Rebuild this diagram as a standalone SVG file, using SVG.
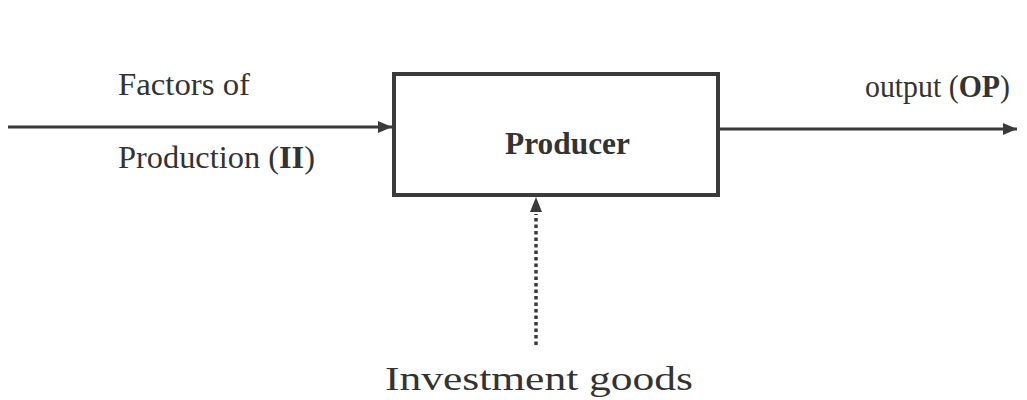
<svg xmlns="http://www.w3.org/2000/svg" width="1027" height="400" viewBox="0 0 1027 400">
<defs>
<style>
.t{font-family:"Liberation Serif","Times New Roman",serif;font-size:31px;fill:#333}
.b{font-weight:bold}
.ln{stroke:#3a3a3a;stroke-width:3;fill:none}
</style>
<marker id="ah" viewBox="0 0 14 12" refX="14" refY="6" markerWidth="14" markerHeight="12" markerUnits="userSpaceOnUse" orient="auto">
<path d="M0,0 L14,6 L0,12 Z" fill="#3a3a3a"/>
</marker>
</defs>
<rect width="1027" height="400" fill="#fff"/>
<g id="connectors">
<line class="ln" x1="8" y1="127" x2="392" y2="127" marker-end="url(#ah)"/>
<line class="ln" x1="718" y1="129" x2="1017" y2="129" marker-end="url(#ah)"/>
<line x1="536" y1="345" x2="536" y2="214" stroke="#3a3a3a" stroke-width="3.5" stroke-dasharray="3.5 3" fill="none"/>
<path d="M530,212 L536,197 L542,212 Z" fill="#3a3a3a"/>
</g>
<g id="producer">
<rect x="394" y="74" width="324" height="121" fill="#fff" stroke="#3a3a3a" stroke-width="4"/>
<text class="t b" x="505" y="154" textLength="125" lengthAdjust="spacingAndGlyphs">Producer</text>
</g>
<g id="factors">
<text class="t" x="118" y="95" textLength="132" lengthAdjust="spacingAndGlyphs">Factors of</text>
<text class="t" x="118" y="168" textLength="197" lengthAdjust="spacingAndGlyphs">Production (<tspan class="b">II</tspan>)</text>
</g>
<g id="output">
<text class="t" x="865" y="97" textLength="145" lengthAdjust="spacingAndGlyphs">output (<tspan class="b">OP</tspan>)</text>
</g>
<g id="investment">
<text class="t" x="385" y="390" style="font-size:34px" textLength="308" lengthAdjust="spacingAndGlyphs">Investment goods</text>
</g>
</svg>
